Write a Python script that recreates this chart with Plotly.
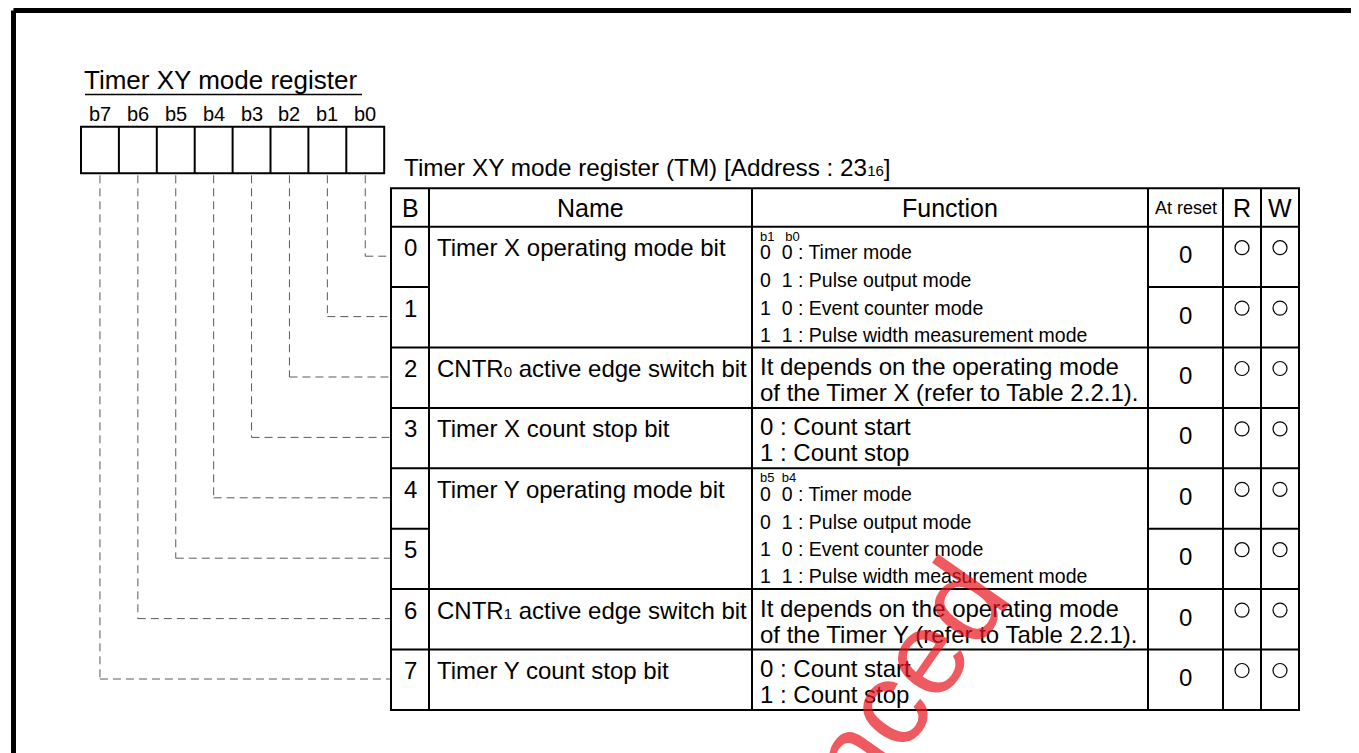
import plotly.graph_objects as go

# ---------------- data ----------------
register_title = "Timer XY mode register"
bit_labels = ["b7", "b6", "b5", "b4", "b3", "b2", "b1", "b0"]
table_caption = "Timer XY mode register (TM) [Address : 23<span style='font-size:15px'>16</span>]"
header_labels = ["B", "Name", "Function", "At reset", "R", "W"]
bit_numbers = ["0", "1", "2", "3", "4", "5", "6", "7"]
# (first bit, number of bits spanned, text)
name_cells = [
    (0, 2, "Timer X operating mode bit"),
    (2, 1, "CNTR<span style='font-size:15px'>0</span> active edge switch bit"),
    (3, 1, "Timer X count stop bit"),
    (4, 2, "Timer Y operating mode bit"),
    (6, 1, "CNTR<span style='font-size:15px'>1</span> active edge switch bit"),
    (7, 1, "Timer Y count stop bit"),
]
# (first bit, span, bit header, lines)
function_cells = [
    (0, 2, "b1\u00a0\u00a0\u00a0b0", ["0\u00a0\u00a00 : Timer mode", "0\u00a0\u00a01 : Pulse output mode",
                                    "1\u00a0\u00a00 : Event counter mode", "1\u00a0\u00a01 : Pulse width measurement mode"]),
    (2, 1, None, ["It depends on the operating mode", "of the Timer X (refer to Table 2.2.1)."]),
    (3, 1, None, ["0 : Count start", "1 : Count stop"]),
    (4, 2, "b5\u00a0\u00a0b4", ["0\u00a0\u00a00 : Timer mode", "0\u00a0\u00a01 : Pulse output mode",
                              "1\u00a0\u00a00 : Event counter mode", "1\u00a0\u00a01 : Pulse width measurement mode"]),
    (6, 1, None, ["It depends on the operating mode", "of the Timer Y (refer to Table 2.2.1)."]),
    (7, 1, None, ["0 : Count start", "1 : Count stop"]),
]
reset_values = ["0", "0", "0", "0", "0", "0", "0", "0"]
read_access = [1, 1, 1, 1, 1, 1, 1, 1]
write_access = [1, 1, 1, 1, 1, 1, 1, 1]
watermark_text = "nced"

# ---------------- geometry ----------------
W, H = 1359, 753
OFF = 8  # page body margin
FONT = "Liberation Sans, Arial, Helvetica, sans-serif"
box_left, box_w, box_top, box_bot = 81.0, 37.9, 126.7, 173.3
col = [391, 429, 752, 1148, 1223, 1261, 1299]
tbl_top, hdr_bot, row_h = 188.3, 226.7, 60.4
n_rows = len(bit_numbers)
row_top = [hdr_bot + i * row_h for i in range(n_rows + 1)]

shapes = []
ann = []


def line(x0, y0, x1, y1, w=2, color="black", dash=None):
    d = dict(type="line", x0=x0, y0=y0, x1=x1, y1=y1, xref="x", yref="y",
             line=dict(color=color, width=w))
    if dash:
        d["line"]["dash"] = dash
    shapes.append(d)


def txt(x, y, s, size, anchor="left", color="black", angle=0, family=FONT):
    ann.append(dict(x=x, y=y, xref="x", yref="y", text=s, showarrow=False,
                    xanchor=anchor, yanchor="middle", borderpad=0, borderwidth=0,
                    textangle=angle, font=dict(size=size, color=color, family=family)))


# outer frame
line(13.5, 10.5, W + 10, 10.5, w=5)
line(13.5, 10.5, 13.5, H + 10, w=5)

# register title
txt(84, 80, register_title, 26)
line(85, 94.5, 362, 94.5, w=1.5)

# bit boxes
shapes.append(dict(type="rect", x0=box_left, x1=box_left + 8 * box_w, y0=box_top, y1=box_bot,
                   line=dict(color="black", width=2), xref="x", yref="y"))
for i in range(1, 8):
    x = box_left + i * box_w
    line(x, box_top, x, box_bot)
for i, lab in enumerate(bit_labels):
    cx = box_left + (i + 0.5) * box_w
    txt(cx, 113.5, lab, 20, anchor="center")
    bit = 7 - i
    ylev = row_top[bit] + 29.5
    line(cx, box_bot + 2, cx, ylev, w=1, color="#5a5a5a", dash="8px,5px")
    line(cx, ylev, col[0], ylev, w=1, color="#5a5a5a", dash="8px,5px")

# caption
txt(404, 167, table_caption, 24.3)

# table frame
shapes.append(dict(type="rect", x0=col[0], x1=col[-1], y0=tbl_top, y1=row_top[-1],
                   line=dict(color="black", width=2), xref="x", yref="y"))
for x in col[1:-1]:
    line(x, tbl_top, x, row_top[-1])
line(col[0], hdr_bot, col[-1], hdr_bot)
merged_starts = {c[0] for c in name_cells if c[1] > 1}
for k in range(1, n_rows):
    y = row_top[k]
    line(col[0], y, col[1], y)
    line(col[3], y, col[-1], y)
    if (k - 1) not in merged_starts:
        line(col[1], y, col[3], y)

# header
hy = 208
txt((col[0] + col[1]) / 2, hy, header_labels[0], 25, anchor="center")
txt((col[1] + col[2]) / 2, hy, header_labels[1], 25, anchor="center")
txt((col[2] + col[3]) / 2, hy, header_labels[2], 25, anchor="center")
txt((col[3] + col[4]) / 2, hy, header_labels[3], 18, anchor="center")
txt((col[4] + col[5]) / 2, hy, header_labels[4], 25, anchor="center")
txt((col[5] + col[6]) / 2, hy, header_labels[5], 25, anchor="center")

# rows
for i, b in enumerate(bit_numbers):
    txt((col[0] + col[1]) / 2, row_top[i] + 21, b, 24, anchor="center")
    txt((col[3] + col[4]) / 2, row_top[i] + 28, reset_values[i], 24, anchor="center")

for start, span, name in name_cells:
    txt(437, row_top[start] + 21, name, 24)

for start, span, bh, lines in function_cells:
    top = row_top[start]
    if bh is not None:
        txt(760, top + 9.5, bh, 13)
        offs = [25.5, 53.5, 81, 108]
        for j, s in enumerate(lines):
            txt(760, top + offs[j], s, 19.5)
    else:
        offs = [19, 45]
        for j, s in enumerate(lines):
            txt(760, top + offs[j], s, 24)

# watermark (partially visible)
txt(905, 680, watermark_text, 120, anchor="center", color="rgba(232,20,30,0.70)", angle=-55,
    family="Liberation Sans, Arial, sans-serif")

fig = go.Figure()
rx = [(col[4] + col[5]) / 2 for i, v in enumerate(read_access) if v]
ry = [row_top[i] + 21 for i, v in enumerate(read_access) if v]
wx = [(col[5] + col[6]) / 2 for i, v in enumerate(write_access) if v]
wy = [row_top[i] + 21 for i, v in enumerate(write_access) if v]
fig.add_trace(go.Scatter(x=rx + wx, y=ry + wy, mode="markers", hoverinfo="skip",
                         marker=dict(symbol="circle-open", size=14, color="black",
                                     line=dict(width=1.2, color="black")),
                         showlegend=False))

fig.update_layout(
    width=W - OFF, height=H - OFF, margin=dict(l=0, r=0, t=0, b=0),
    paper_bgcolor="white", plot_bgcolor="white",
    xaxis=dict(range=[OFF, W], visible=False, fixedrange=True),
    yaxis=dict(range=[H, OFF], visible=False, fixedrange=True),
    shapes=shapes, annotations=ann, showlegend=False,
)
fig.write_html("out.html", config={"displayModeBar": False})
